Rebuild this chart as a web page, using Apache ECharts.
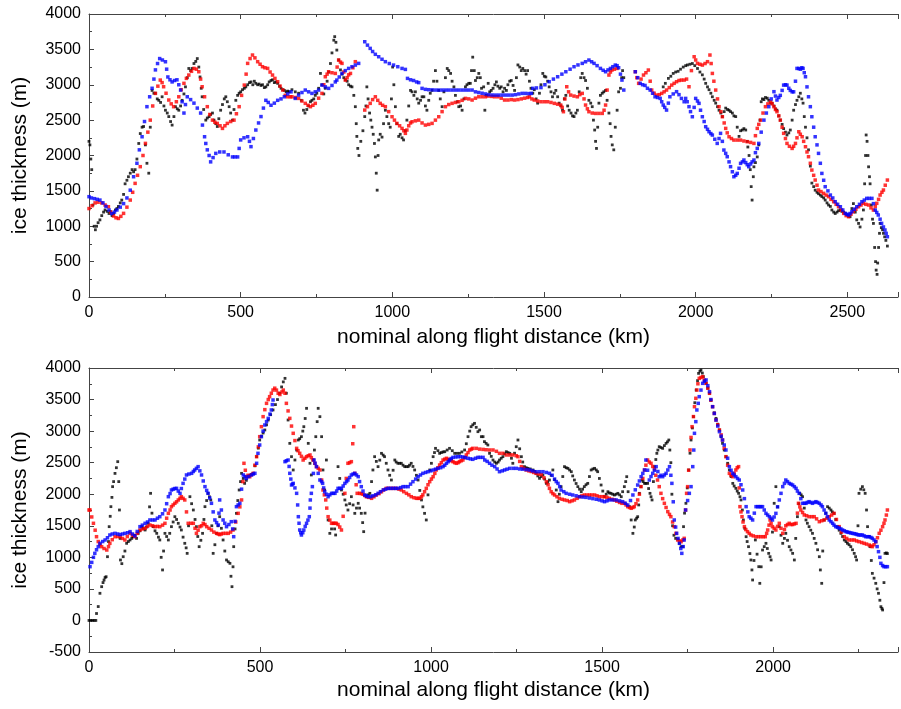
<!DOCTYPE html>
<html>
<head>
<meta charset="utf-8">
<script src="https://cdn.jsdelivr.net/npm/echarts@6/dist/echarts.min.js"></script>
<style>
html,body{margin:0;padding:0;background:#fff;overflow:hidden;}
#chart{width:901px;height:709px;}
</style>
</head>
<body>
<div id="chart"></div>
<script>
// ---- DATA: [distance km, ice thickness m] ----
const topBlack = [[0,2200],[3,2150],[6,1950],[9,1800],[13,1300],[17,1000],[21,950],[25,1000],[30,1050],[36,1090],[42,1150],[48,1200],[53,1230],[60,1210],[66,1180],[70,1210],[76,1150],[81,1180],[87,1230],[92,1250],[97,1280],[103,1330],[108,1370],[114,1450],[119,1600],[125,1650],[130,1700],[136,1750],[142,1800],[147,1770],[152,1800],[158,1950],[164,2170],[169,2310],[175,2400],[180,2410],[186,2150],[191,1890],[197,1750],[202,2400],[208,2920],[214,2880],[219,2880],[225,2800],[230,2780],[236,2750],[241,2830],[247,2700],[252,2640],[258,2600],[263,2550],[269,2480],[274,2430],[280,2550],[285,2690],[291,2660],[296,2640],[302,2700],[307,2780],[313,2870],[318,2970],[324,3100],[329,3230],[335,3200],[340,3230],[346,3300],[352,3330],[357,3370],[362,3250],[366,3110],[370,2950],[373,2830],[378,2650],[385,2500],[390,2530],[396,2550],[401,2580],[407,2600],[412,2500],[418,2450],[423,2410],[428,2520],[434,2640],[440,2720],[446,2800],[451,2830],[456,2760],[462,2690],[467,2600],[473,2500],[478,2650],[484,2780],[490,2850],[495,2880],[500,2900],[506,2930],[512,2950],[517,2970],[523,3000],[529,3030],[534,3040],[540,3000],[545,3050],[550,3020],[556,3000],[561,3010],[567,2990],[572,3000],[578,2960],[583,2970],[589,3000],[594,3040],[600,3060],[605,3070],[611,3030],[616,3040],[622,3020],[628,2980],[633,2950],[639,2930],[644,2920],[650,2900],[655,2910],[660,2900],[669,2930],[680,2900],[691,2880],[700,2780],[707,2640],[712,2600],[718,2650],[724,2700],[730,2760],[735,2780],[741,2800],[746,2850],[751,2880],[757,2950],[763,3160],[768,3000],[774,2870],[779,2950],[785,3050],[790,3180],[796,3300],[801,3450],[807,3630],[810,3680],[814,3600],[817,3490],[823,3350],[829,3210],[834,3150],[840,3100],[845,3070],[851,3050],[856,3000],[862,2980],[867,2970],[873,2850],[878,2690],[881,2450],[883,2270],[886,2100],[890,2000],[896,2200],[903,2350],[909,2550],[913,2700],[916,2970],[920,2800],[925,2600],[929,2500],[933,2400],[937,2300],[941,2170],[944,1980],[947,1750],[950,1510],[953,2000],[955,2220],[960,2300],[966,2260],[971,2450],[977,2640],[982,2550],[988,2450],[993,2400],[997,2800],[1001,3250],[1005,3000],[1010,2690],[1015,2450],[1021,2270],[1026,2300],[1032,2250],[1037,2220],[1043,2350],[1048,2500],[1054,2700],[1060,2920],[1065,2900],[1071,2850],[1076,2900],[1082,2800],[1087,2740],[1093,2780],[1098,2830],[1104,2830],[1109,2700],[1114,2640],[1120,2780],[1125,2880],[1131,2920],[1136,3050],[1142,3200],[1147,3050],[1153,2920],[1158,2800],[1164,2690],[1170,2900],[1175,3100],[1181,3230],[1186,3200],[1192,3160],[1197,3050],[1203,2970],[1208,2850],[1214,2760],[1219,2690],[1225,2700],[1230,2640],[1236,2800],[1241,2970],[1246,3000],[1252,3020],[1257,3020],[1261,3200],[1265,3390],[1270,3200],[1274,3060],[1280,3100],[1285,3160],[1290,3100],[1294,2950],[1301,2970],[1305,2640],[1310,2850],[1316,3020],[1321,2900],[1326,2920],[1332,2950],[1338,3000],[1343,3040],[1348,2980],[1354,2950],[1359,2970],[1365,2900],[1370,2950],[1376,2920],[1381,3000],[1387,3050],[1392,3060],[1398,2990],[1403,2920],[1409,3100],[1414,3280],[1420,3250],[1425,3200],[1430,3230],[1436,3200],[1441,3150],[1446,3200],[1452,3050],[1457,2950],[1463,2880],[1468,2930],[1474,2800],[1479,2740],[1485,2880],[1490,3000],[1496,3160],[1501,3120],[1506,3110],[1512,3050],[1517,2970],[1523,2900],[1528,2830],[1534,2880],[1539,2920],[1545,2830],[1550,2740],[1556,2700],[1561,2640],[1567,2800],[1572,2850],[1578,2700],[1583,2640],[1589,2600],[1594,2560],[1599,2550],[1605,2600],[1610,2640],[1616,2900],[1621,3100],[1626,3160],[1632,3100],[1637,3060],[1643,2950],[1648,2780],[1654,2740],[1659,2690],[1663,2500],[1667,2360],[1670,2200],[1673,2100],[1677,2400],[1681,2740],[1686,2850],[1692,2880],[1697,2900],[1703,2920],[1708,2780],[1714,2600],[1718,2450],[1721,2270],[1725,2150],[1730,2080],[1735,2400],[1741,2640],[1746,2900],[1752,2950],[1756,3100],[1759,3200],[1763,3100],[1893,2970],[1900,3020],[1910,3090],[1918,3120],[1926,3160],[1934,3180],[1942,3190],[1950,3220],[1959,3250],[1967,3270],[1973,3280],[1981,3290],[1989,3300],[1997,3270],[2006,3230],[2014,3180],[2022,3140],[2028,3080],[2033,3020],[2039,2970],[2044,2930],[2050,2880],[2055,2830],[2061,2780],[2066,2740],[2072,2690],[2077,2640],[2083,2600],[2088,2550],[2094,2620],[2099,2670],[2105,2650],[2110,2640],[2115,2620],[2121,2600],[2126,2560],[2132,2550],[2137,2400],[2143,2270],[2148,2350],[2154,2360],[2159,2380],[2165,2360],[2170,2200],[2172,2120],[2176,2000],[2180,1800],[2183,1560],[2186,1370],[2190,1700],[2192,1840],[2197,1900],[2203,1980],[2208,2150],[2212,2500],[2216,2760],[2220,2800],[2225,2790],[2230,2820],[2236,2810],[2241,2780],[2247,2740],[2252,2740],[2258,2700],[2263,2660],[2268,2640],[2274,2560],[2279,2500],[2285,2440],[2290,2380],[2296,2330],[2301,2290],[2307,2320],[2312,2360],[2318,2500],[2323,2640],[2329,2720],[2334,2780],[2340,2830],[2345,2880],[2350,2800],[2354,2740],[2358,2550],[2362,2400],[2367,2250],[2372,2080],[2378,1850],[2383,1610],[2389,1560],[2394,1510],[2400,1480],[2405,1460],[2411,1440],[2416,1420],[2422,1400],[2427,1370],[2433,1330],[2438,1300],[2444,1280],[2449,1230],[2455,1200],[2460,1180],[2466,1200],[2471,1220],[2477,1230],[2482,1210],[2488,1200],[2493,1180],[2499,1160],[2504,1140],[2509,1135],[2515,1250],[2520,1320],[2526,1200],[2531,1090],[2537,1040],[2542,990],[2548,1100],[2553,1230],[2557,1600],[2560,2000],[2562,2290],[2565,2200],[2568,2000],[2570,1840],[2573,1700],[2575,1600],[2579,1300],[2583,1100],[2586,1040],[2590,700],[2593,500],[2595,380],[2598,320],[2600,480],[2603,700],[2606,900],[2608,1040],[2612,980],[2616,950],[2619,900],[2623,850],[2627,800],[2632,720]];

const topRed = [[0,1250],[10,1290],[20,1330],[30,1340],[42,1330],[53,1300],[64,1276],[72,1200],[81,1145],[89,1120],[97,1110],[105,1140],[114,1182],[125,1270],[136,1370],[144,1480],[152,1606],[160,1720],[169,1842],[178,2000],[186,2171],[194,2330],[202,2500],[210,2700],[219,2878],[227,2980],[235,3066],[241,3030],[246,2972],[254,2880],[263,2784],[271,2730],[279,2690],[288,2760],[296,2830],[304,2930],[313,3020],[321,3090],[329,3137],[338,3190],[346,3231],[354,3220],[362,3184],[368,3080],[373,2972],[381,2830],[390,2690],[398,2580],[407,2500],[415,2470],[423,2454],[432,2420],[440,2383],[448,2420],[456,2454],[467,2480],[478,2500],[486,2590],[495,2690],[503,2850],[512,2995],[518,3150],[523,3302],[531,3370],[539,3420],[547,3380],[556,3326],[564,3290],[572,3255],[580,3240],[589,3231],[597,3180],[605,3137],[613,3090],[622,3043],[630,2980],[639,2925],[647,2850],[655,2830],[664,2830],[669,2830],[680,2820],[691,2807],[702,2770],[713,2737],[722,2710],[730,2690],[738,2710],[746,2737],[757,2810],[768,2878],[774,3000],[779,3113],[785,3150],[790,3184],[801,3170],[812,3160],[818,3250],[823,3349],[829,3320],[834,3302],[840,3180],[845,3066],[851,3100],[856,3140],[862,3160],[870,3240],[878,3326],[909,2642],[918,2690],[927,2737],[935,2790],[944,2830],[952,2780],[960,2737],[968,2710],[977,2690],[988,2620],[999,2548],[1007,2500],[1015,2454],[1024,2420],[1032,2383],[1038,2350],[1043,2313],[1048,2360],[1054,2420],[1060,2460],[1065,2477],[1076,2490],[1087,2500],[1098,2460],[1109,2430],[1120,2440],[1131,2454],[1142,2500],[1153,2548],[1164,2620],[1175,2690],[1186,2720],[1197,2737],[1208,2750],[1219,2760],[1230,2780],[1241,2807],[1252,2800],[1263,2784],[1274,2810],[1285,2830],[1296,2830],[1307,2830],[1316,2840],[1327,2835],[1337,2830],[1348,2830],[1359,2810],[1370,2784],[1381,2784],[1392,2790],[1403,2784],[1414,2790],[1425,2800],[1436,2810],[1446,2820],[1452,2830],[1460,2800],[1468,2784],[1479,2770],[1490,2760],[1501,2760],[1512,2760],[1523,2750],[1534,2737],[1545,2725],[1555,2713],[1560,2680],[1564,2619],[1569,2800],[1575,2972],[1581,2900],[1588,2854],[1599,2840],[1610,2830],[1618,2860],[1626,2878],[1632,2800],[1637,2713],[1643,2660],[1648,2619],[1659,2600],[1670,2595],[1681,2595],[1692,2595],[1698,2640],[1703,2713],[1708,2925],[1714,3137],[1719,3180],[1724,3208],[1732,3220],[1741,3231],[1801,3184],[1806,3100],[1812,3020],[1820,3080],[1828,3137],[1836,3170],[1844,3208],[1850,3050],[1855,2925],[1863,2880],[1872,2854],[1880,2860],[1888,2878],[1896,2900],[1904,2925],[1913,2960],[1921,2995],[1929,3020],[1937,3043],[1945,3060],[1953,3066],[1962,3066],[1970,3080],[1978,2972],[1986,3200],[1995,3396],[2000,3350],[2006,3302],[2014,3290],[2022,3278],[2031,3300],[2039,3326],[2047,3420],[2051,3300],[2055,3160],[2060,3050],[2066,2925],[2072,2800],[2077,2690],[2083,2620],[2088,2548],[2094,2460],[2099,2383],[2104,2320],[2110,2265],[2118,2240],[2126,2218],[2137,2218],[2148,2218],[2159,2205],[2170,2195],[2181,2185],[2192,2171],[2197,2280],[2203,2383],[2208,2440],[2214,2500],[2222,2600],[2230,2690],[2238,2730],[2247,2760],[2252,2730],[2258,2690],[2263,2650],[2268,2619],[2274,2560],[2279,2500],[2285,2400],[2290,2313],[2296,2240],[2301,2171],[2309,2130],[2318,2100],[2323,2130],[2329,2171],[2334,2250],[2340,2336],[2345,2300],[2351,2265],[2356,2200],[2362,2124],[2367,2050],[2372,1983],[2378,1890],[2383,1794],[2389,1720],[2394,1653],[2400,1580],[2405,1512],[2413,1490],[2422,1465],[2430,1440],[2438,1418],[2446,1380],[2455,1347],[2463,1310],[2471,1276],[2480,1230],[2488,1182],[2496,1150],[2504,1135],[2512,1170],[2520,1206],[2528,1240],[2537,1276],[2545,1300],[2553,1324],[2561,1310],[2570,1300],[2578,1260],[2586,1229],[2592,1280],[2597,1324],[2603,1380],[2608,1441],[2614,1480],[2619,1512],[2625,1580],[2632,1653]];

const topBlue = [[0,1418],[8,1400],[18,1390],[27,1380],[36,1370],[46,1330],[56,1280],[66,1230],[75,1180],[84,1200],[92,1230],[103,1270],[114,1320],[125,1400],[136,1510],[147,1700],[158,1890],[166,2080],[175,2265],[183,2480],[191,2690],[200,2830],[208,2950],[214,3080],[219,3210],[226,3300],[233,3370],[242,3350],[252,3325],[256,3220],[260,3110],[267,3070],[274,3040],[282,3060],[290,3070],[296,3000],[302,2925],[307,2760],[313,2600],[318,2720],[324,2830],[335,2790],[346,2740],[357,2670],[368,2600],[374,2430],[381,2265],[385,2170],[390,2080],[396,2000],[401,1910],[409,1970],[418,2030],[431,2050],[445,2050],[459,2010],[473,1980],[481,1980],[490,1980],[495,2100],[500,2220],[511,2250],[523,2265],[529,2200],[534,2125],[542,2240],[550,2360],[559,2460],[567,2550],[575,2670],[583,2780],[591,2750],[600,2710],[611,2740],[622,2780],[633,2800],[644,2830],[655,2870],[666,2900],[680,2807],[691,2854],[702,2890],[713,2925],[724,2900],[735,2878],[746,2900],[757,2925],[768,2995],[779,2970],[790,2949],[801,2990],[812,3040],[817,3066],[825,3110],[834,3160],[845,3200],[856,3231],[867,3255],[878,3278],[889,3302],[909,3608],[918,3560],[927,3514],[935,3470],[944,3430],[955,3396],[966,3360],[977,3326],[990,3300],[1004,3278],[1018,3255],[1032,3231],[1043,3217],[1050,3090],[1060,3070],[1070,3060],[1080,3040],[1087,3030],[1098,2949],[1109,2935],[1120,2930],[1131,2928],[1142,2925],[1153,2925],[1164,2925],[1175,2925],[1186,2925],[1197,2925],[1208,2925],[1219,2925],[1230,2925],[1241,2925],[1252,2925],[1263,2925],[1274,2900],[1285,2890],[1296,2880],[1307,2870],[1318,2860],[1329,2855],[1340,2854],[1351,2854],[1362,2854],[1373,2854],[1384,2854],[1395,2854],[1406,2860],[1417,2870],[1428,2878],[1439,2878],[1450,2875],[1458,2878],[1463,2949],[1475,2955],[1490,2960],[1503,3000],[1517,3043],[1531,3080],[1545,3113],[1559,3150],[1572,3184],[1586,3220],[1599,3255],[1612,3280],[1626,3302],[1637,3325],[1648,3349],[1657,3325],[1665,3302],[1675,3270],[1686,3231],[1695,3205],[1703,3184],[1711,3210],[1719,3231],[1727,3255],[1735,3278],[1741,3270],[1746,3240],[1752,3150],[1757,3066],[1763,2925],[1801,3184],[1809,3100],[1817,3020],[1825,3000],[1833,2990],[1841,2950],[1850,2925],[1858,2880],[1866,2830],[1874,2820],[1883,2807],[1888,2760],[1893,2713],[1898,2680],[1904,2642],[1910,2740],[1915,2830],[1926,2870],[1937,2902],[1945,2860],[1953,2807],[1962,2760],[1967,2807],[1972,2760],[1978,2690],[1983,2620],[1989,2548],[1995,2680],[2000,2807],[2006,2770],[2011,2737],[2016,2640],[2022,2548],[2028,2480],[2033,2407],[2039,2370],[2044,2336],[2050,2310],[2055,2289],[2063,2230],[2071,2171],[2077,2240],[2082,2313],[2088,2200],[2093,2077],[2099,2030],[2104,1983],[2110,1910],[2115,1842],[2121,1770],[2126,1700],[2132,1720],[2137,1747],[2143,1820],[2148,1889],[2154,1910],[2159,1936],[2165,1900],[2170,1870],[2175,1842],[2181,1880],[2186,1910],[2192,1936],[2197,2040],[2203,2100],[2208,2171],[2216,2330],[2225,2500],[2233,2600],[2241,2690],[2249,2800],[2258,2902],[2263,2840],[2268,2784],[2274,2820],[2279,2850],[2285,2920],[2290,2995],[2296,3000],[2301,2995],[2307,2950],[2312,2920],[2318,2900],[2323,2900],[2329,3050],[2334,3231],[2340,3230],[2345,3220],[2350,3240],[2354,3231],[2358,3170],[2362,3113],[2367,2970],[2372,2830],[2378,2690],[2383,2548],[2389,2400],[2394,2265],[2400,2150],[2405,2030],[2411,1890],[2416,1747],[2422,1650],[2427,1559],[2436,1500],[2444,1441],[2452,1400],[2460,1347],[2468,1310],[2477,1276],[2485,1230],[2493,1182],[2499,1170],[2504,1159],[2509,1180],[2515,1206],[2523,1240],[2531,1276],[2540,1310],[2548,1347],[2556,1370],[2564,1394],[2572,1394],[2581,1394],[2586,1320],[2592,1229],[2597,1195],[2602,1159],[2608,1100],[2613,1041],[2619,990],[2624,947],[2628,900],[2632,852]];

const botBlack = [[0,0],[5,0],[10,0],[15,0],[20,0],[22,110],[27,220],[32,430],[37,535],[41,600],[44,640],[47,680],[50,693],[54,1010],[57,1250],[59,1486],[62,1650],[64,1803],[67,1950],[69,2120],[72,2200],[76,2330],[80,2420],[84,2516],[87,2200],[89,1750],[91,1300],[92,958],[96,900],[100,1010],[105,1100],[110,1222],[115,1250],[120,1275],[125,1300],[129,1327],[134,1350],[139,1300],[144,1380],[149,1420],[154,1486],[159,1460],[164,1433],[168,1480],[173,1539],[177,1800],[180,2014],[184,1700],[188,1486],[193,1420],[198,1380],[203,1320],[207,1275],[211,1000],[215,800],[218,1100],[222,1380],[227,1330],[232,1275],[236,1380],[241,1486],[246,1560],[251,1644],[256,1600],[261,1539],[266,1480],[270,1433],[275,1320],[280,1222],[284,1150],[287,1063],[291,1500],[295,1961],[300,1850],[305,1750],[310,1600],[314,1486],[318,1330],[322,1169],[327,1270],[332,1380],[336,1600],[339,1803],[344,1900],[348,2014],[352,1960],[356,1909],[359,1500],[363,1063],[368,1200],[373,1380],[377,1500],[382,1644],[387,1460],[392,1275],[397,1100],[402,958],[407,930],[412,905],[415,700],[418,535],[421,850],[423,1169],[427,1450],[431,1697],[435,1900],[439,2067],[443,2200],[446,2331],[451,2250],[455,2172],[460,2220],[465,2278],[470,2300],[475,2310],[480,2331],[485,2450],[490,2595],[495,2730],[499,2859],[504,2920],[509,2970],[514,3018],[519,3100],[524,3176],[531,3260],[538,3335],[545,3420],[551,3500],[557,3600],[563,3700],[568,3780],[573,3836],[577,3600],[582,3176],[587,2806],[592,2595],[597,2384],[602,2542],[607,2700],[612,2859],[616,2880],[621,2912],[625,3000],[628,3070],[632,3200],[636,3361],[641,2806],[646,2490],[650,2305],[655,2542],[659,2700],[663,2912],[667,3150],[670,3361],[675,3229],[680,2912],[684,2384],[689,2067],[694,2542],[699,1592],[704,1380],[709,1450],[714,1539],[718,1450],[721,1354],[728,2437],[733,2250],[738,2067],[743,2000],[748,1909],[752,1830],[757,1750],[762,1850],[767,1961],[772,1830],[777,1697],[782,1780],[787,1856],[791,1780],[796,1697],[800,1550],[803,1407],[807,1700],[811,1961],[816,1990],[821,2014],[826,2200],[830,2384],[835,2595],[840,2520],[845,2437],[850,2540],[855,2648],[860,2620],[864,2595],[869,2490],[874,2384],[879,2300],[884,2225],[889,2380],[894,2542],[898,2510],[903,2490],[908,2490],[913,2490],[918,2460],[923,2437],[928,2437],[933,2437],[937,2460],[942,2490],[947,2440],[952,2384],[957,2300],[962,2225],[967,2060],[972,1909],[976,1800],[981,1697],[986,1592],[991,1990],[996,2384],[1001,2490],[1006,2595],[1010,2660],[1013,2727],[1020,2690],[1025,2648],[1030,2660],[1035,2670],[1040,2674],[1047,2700],[1054,2727],[1062,2690],[1069,2648],[1076,2648],[1083,2648],[1090,2670],[1098,2701],[1103,2800],[1108,2912],[1113,3000],[1117,3070],[1122,3100],[1127,3123],[1132,3060],[1137,2991],[1142,3018],[1147,2912],[1152,2912],[1156,2833],[1161,2806],[1166,2780],[1171,2648],[1176,2600],[1181,2542],[1186,2510],[1191,2490],[1196,2510],[1200,2542],[1205,2570],[1210,2595],[1215,2640],[1220,2674],[1225,2660],[1230,2648],[1235,2570],[1239,2490],[1244,2650],[1249,2753],[1254,2859],[1259,2720],[1264,2595],[1268,2510],[1273,2437],[1278,2420],[1283,2410],[1290,2400],[1298,2384],[1303,2360],[1307,2331],[1312,2290],[1317,2252],[1322,2280],[1327,2305],[1332,2240],[1337,2172],[1341,2190],[1346,2225],[1351,2300],[1356,2384],[1361,2230],[1366,2067],[1371,1882],[1375,2000],[1380,2120],[1385,2280],[1390,2437],[1395,2420],[1400,2410],[1405,2384],[1410,2357],[1414,2290],[1419,2225],[1424,2170],[1429,2120],[1434,2080],[1439,2040],[1443,2080],[1448,2120],[1453,2150],[1458,2172],[1463,2280],[1468,2384],[1473,2400],[1478,2410],[1483,2384],[1487,2357],[1492,2250],[1497,2146],[1502,2050],[1507,1961],[1512,2000],[1517,2040],[1521,2020],[1526,2014],[1531,2000],[1536,1988],[1541,2000],[1546,2014],[1551,1990],[1556,1961],[1560,2040],[1565,2120],[1569,2200],[1572,2278],[1576,2040],[1580,1803],[1585,1592],[1590,1380],[1594,1480],[1597,1592],[1601,1620],[1604,1644],[1607,1830],[1609,2014],[1613,2120],[1617,2225],[1620,2200],[1624,2172],[1628,2172],[1633,2172],[1636,2090],[1640,2014],[1643,1960],[1646,1909],[1650,2200],[1653,2437],[1657,2550],[1660,2648],[1663,2700],[1667,2753],[1672,2740],[1677,2727],[1682,2770],[1687,2806],[1691,2830],[1695,2859],[1698,2700],[1701,2500],[1704,2000],[1706,1500],[1710,1350],[1715,1300],[1721,1290],[1726,1222],[1731,1169],[1736,1169],[1738,1486],[1741,1700],[1745,1856],[1749,2100],[1753,2384],[1757,2650],[1760,2859],[1764,3050],[1767,3229],[1771,3450],[1775,3651],[1779,3800],[1782,3915],[1786,3950],[1789,3968],[1793,3920],[1796,3863],[1800,3800],[1804,3757],[1809,3680],[1814,3599],[1818,3490],[1823,3387],[1828,3290],[1833,3202],[1838,3110],[1843,3018],[1848,2910],[1852,2806],[1857,2700],[1862,2595],[1867,2490],[1872,2384],[1877,2280],[1882,2172],[1886,2130],[1891,2093],[1895,2050],[1899,2014],[1903,1960],[1906,1909],[1910,1750],[1913,1592],[1917,1460],[1921,1327],[1924,1250],[1928,1169],[1932,1060],[1935,958],[1938,800],[1940,641],[1944,950],[1948,1275],[1953,1050],[1958,852],[1961,588],[1965,850],[1969,1116],[1974,1170],[1979,1222],[1983,1140],[1987,1063],[1991,1010],[1994,958],[1998,1400],[2003,1856],[2008,2120],[2013,1800],[2018,1486],[2023,1350],[2028,1222],[2033,1300],[2037,1380],[2042,1270],[2047,1169],[2052,1116],[2057,1063],[2062,958],[2066,1300],[2071,1644],[2075,1850],[2078,2014],[2082,1990],[2086,1961],[2091,1780],[2096,1592],[2100,1540],[2105,1486],[2110,1430],[2115,1380],[2120,1300],[2125,1222],[2130,1120],[2135,1010],[2138,800],[2142,588],[2145,1100],[2149,1592],[2154,1700],[2159,1803],[2164,1780],[2169,1750],[2173,1720],[2178,1697],[2183,1600],[2188,1486],[2193,1430],[2198,1380],[2203,1330],[2208,1275],[2213,1250],[2217,1222],[2222,1200],[2227,1169],[2232,1120],[2237,1063],[2241,1010],[2244,958],[2248,1500],[2251,2014],[2256,2080],[2261,2120],[2265,2070],[2269,2014],[2273,1750],[2276,1486],[2280,1330],[2283,1169],[2287,950],[2290,746],[2295,670],[2300,588],[2304,500],[2308,430],[2312,320],[2315,218],[2318,190],[2320,166],[2324,600],[2327,1063],[2331,1070],[2334,1060]];

const botRed = [[0,1750],[3,1750],[8,1640],[13,1539],[18,1430],[22,1327],[27,1250],[32,1200],[37,1169],[44,1140],[52,1116],[57,1170],[61,1222],[68,1280],[76,1327],[84,1330],[91,1327],[98,1300],[105,1275],[112,1330],[120,1380],[127,1350],[134,1327],[141,1380],[149,1433],[156,1450],[164,1460],[171,1490],[178,1512],[186,1500],[193,1486],[200,1490],[207,1486],[215,1510],[222,1539],[227,1620],[232,1697],[237,1750],[241,1803],[246,1830],[251,1856],[256,1880],[261,1909],[266,1935],[270,1961],[275,1935],[280,1909],[285,1720],[290,1539],[298,1539],[305,1539],[310,1460],[314,1380],[319,1430],[324,1486],[329,1500],[334,1539],[339,1520],[344,1486],[351,1460],[358,1433],[365,1400],[373,1380],[378,1370],[382,1360],[387,1370],[392,1380],[400,1380],[407,1380],[414,1400],[421,1433],[429,1560],[436,1697],[441,1800],[446,1909],[450,2200],[453,2490],[457,2380],[460,2278],[465,2300],[470,2278],[475,2310],[480,2331],[485,2460],[490,2595],[495,2750],[499,2912],[504,3070],[509,3229],[514,3340],[519,3440],[524,3500],[528,3546],[533,3600],[538,3651],[543,3680],[548,3650],[553,3600],[558,3580],[564,3620],[568,3650],[573,3600],[577,3440],[582,3320],[587,3202],[592,3080],[597,2965],[602,2850],[607,2727],[611,2690],[616,2648],[621,2600],[626,2542],[631,2570],[636,2595],[641,2610],[646,2622],[650,2580],[655,2542],[660,2490],[665,2437],[670,2410],[675,2384],[680,2225],[684,2067],[688,1990],[692,1909],[695,1780],[699,1644],[704,1590],[709,1539],[714,1539],[719,1539],[723,1539],[728,1520],[733,1480],[738,1433],[743,1650],[748,2014],[752,2250],[757,2490],[762,2500],[767,2516],[771,2800],[774,3070],[777,2330],[781,2150],[784,2014],[791,2014],[796,2010],[801,2000],[806,1980],[811,1961],[818,1950],[826,1935],[833,1960],[840,1988],[848,2010],[855,2040],[862,2070],[869,2093],[876,2093],[884,2093],[891,2093],[898,2093],[906,2080],[913,2067],[920,2040],[928,2014],[935,1990],[942,1961],[950,1945],[957,1935],[962,1935],[967,1935],[972,1960],[976,1990],[981,2040],[986,2093],[991,2150],[996,2199],[1001,2240],[1006,2278],[1011,2330],[1015,2384],[1020,2420],[1025,2463],[1030,2500],[1035,2542],[1040,2555],[1045,2569],[1050,2555],[1054,2542],[1059,2530],[1064,2516],[1069,2500],[1074,2490],[1079,2500],[1083,2516],[1088,2530],[1093,2542],[1098,2580],[1103,2622],[1108,2660],[1113,2701],[1118,2715],[1122,2727],[1132,2727],[1142,2715],[1152,2710],[1161,2705],[1171,2701],[1181,2701],[1191,2680],[1200,2648],[1210,2648],[1220,2622],[1230,2622],[1239,2622],[1249,2610],[1254,2595],[1259,2520],[1264,2437],[1271,2410],[1278,2384],[1286,2370],[1293,2360],[1300,2345],[1307,2331],[1315,2320],[1322,2310],[1330,2260],[1337,2199],[1342,2150],[1346,2093],[1351,2040],[1356,2010],[1361,1988],[1368,1960],[1375,1935],[1383,1920],[1390,1909],[1398,1900],[1405,1882],[1412,1895],[1419,1909],[1427,1935],[1434,1961],[1441,1975],[1448,1988],[1456,1988],[1463,1988],[1470,1988],[1478,1988],[1485,1975],[1492,1961],[1500,1961],[1507,1961],[1514,1950],[1521,1935],[1529,1920],[1536,1909],[1543,1890],[1551,1870],[1558,1856],[1565,1856],[1570,1830],[1575,1803],[1580,1790],[1585,1777],[1590,1790],[1594,1803],[1599,1850],[1604,1909],[1609,2000],[1614,2120],[1619,2250],[1624,2384],[1628,2460],[1633,2542],[1638,2510],[1643,2490],[1648,2440],[1653,2400],[1657,2300],[1662,2225],[1667,2120],[1672,2014],[1677,1930],[1682,1856],[1687,1790],[1692,1724],[1697,1680],[1701,1644],[1706,1560],[1711,1486],[1716,1380],[1721,1275],[1726,1260],[1731,1248],[1736,1275],[1740,1301],[1744,1750],[1747,2014],[1750,2120],[1753,2380],[1757,2701],[1760,2900],[1763,3070],[1767,3230],[1770,3387],[1774,3520],[1777,3651],[1780,3750],[1784,3836],[1789,3850],[1794,3863],[1799,3810],[1804,3757],[1809,3680],[1814,3599],[1818,3490],[1823,3387],[1828,3280],[1833,3176],[1838,3100],[1843,3018],[1848,2940],[1852,2859],[1857,2730],[1862,2595],[1867,2460],[1872,2331],[1877,2300],[1882,2278],[1886,2330],[1891,2384],[1895,2420],[1899,2437],[1901,2100],[1903,1803],[1906,1720],[1909,1644],[1912,1560],[1916,1486],[1920,1440],[1925,1407],[1930,1380],[1935,1354],[1942,1340],[1950,1327],[1957,1327],[1964,1327],[1971,1327],[1977,1327],[1981,1380],[1984,1433],[1988,1510],[1991,1592],[1994,1540],[1998,1486],[2003,1460],[2008,1433],[2013,1490],[2018,1539],[2023,1460],[2028,1380],[2033,1440],[2037,1500],[2042,1520],[2047,1539],[2052,1520],[2057,1520],[2062,1530],[2067,1539],[2071,1700],[2074,1856],[2078,1800],[2081,1750],[2086,1710],[2091,1671],[2098,1660],[2105,1644],[2113,1644],[2120,1644],[2127,1610],[2135,1565],[2142,1580],[2149,1592],[2157,1620],[2164,1644],[2171,1670],[2178,1697],[2185,1600],[2193,1486],[2200,1400],[2208,1327],[2215,1300],[2222,1275],[2230,1275],[2237,1275],[2244,1260],[2251,1248],[2259,1235],[2266,1222],[2273,1210],[2281,1195],[2286,1180],[2290,1169],[2295,1200],[2300,1248],[2305,1310],[2310,1380],[2315,1430],[2320,1486],[2324,1540],[2327,1592],[2331,1670],[2334,1750]];

const botBlue = [[3,852],[8,920],[13,1000],[17,1063],[22,1120],[27,1170],[32,1222],[40,1250],[47,1275],[54,1310],[61,1354],[68,1370],[76,1380],[84,1370],[91,1360],[98,1370],[105,1380],[113,1390],[120,1407],[127,1370],[134,1340],[141,1410],[149,1486],[156,1510],[164,1539],[171,1560],[178,1592],[186,1592],[193,1592],[200,1620],[207,1644],[215,1690],[222,1750],[227,1850],[232,1961],[237,2010],[241,2067],[246,2080],[251,2090],[256,2093],[261,2050],[266,2014],[270,2090],[275,2172],[280,2240],[285,2305],[292,2320],[300,2331],[305,2360],[309,2384],[314,2410],[319,2437],[324,2370],[329,2305],[334,2210],[339,2120],[344,2060],[348,2014],[353,1940],[358,1856],[363,1720],[368,1592],[373,1550],[378,1512],[380,1700],[382,1909],[387,1750],[392,1592],[397,1540],[402,1486],[409,1520],[416,1565],[420,1450],[423,1327],[427,1570],[431,1803],[436,1830],[441,1856],[446,2080],[451,2305],[456,2280],[460,2252],[467,2280],[475,2305],[480,2320],[485,2331],[490,2490],[494,2648],[499,2780],[504,2912],[509,3000],[514,3097],[519,3150],[524,3202],[529,3270],[533,3335],[536,3420],[538,3493],[573,2516],[577,2530],[582,2542],[585,2440],[587,2331],[590,2240],[592,2146],[595,2160],[597,2172],[602,2100],[607,2014],[610,1830],[612,1644],[614,1540],[616,1433],[619,1390],[621,1354],[625,1390],[628,1433],[632,1490],[636,1539],[640,1590],[644,1644],[646,1780],[647,1909],[650,2014],[653,2120],[656,2330],[658,2542],[661,2490],[665,2437],[670,2331],[675,2225],[680,2200],[683,2172],[686,2100],[689,2040],[694,2000],[699,1961],[704,1990],[709,2014],[714,2014],[719,2014],[724,2050],[728,2093],[733,2093],[738,2093],[743,2130],[748,2172],[753,2200],[757,2225],[762,2265],[767,2305],[772,2320],[777,2331],[782,2305],[787,2278],[791,2200],[796,2120],[801,2050],[806,1988],[811,1975],[816,1961],[823,1961],[830,1975],[838,1990],[845,2014],[852,2040],[860,2067],[867,2080],[874,2093],[881,2093],[889,2093],[896,2093],[903,2093],[911,2105],[918,2120],[925,2120],[933,2120],[940,2160],[947,2199],[955,2240],[962,2278],[969,2305],[976,2331],[984,2345],[991,2357],[999,2370],[1006,2384],[1013,2397],[1020,2410],[1028,2420],[1035,2437],[1040,2460],[1045,2490],[1050,2515],[1054,2542],[1059,2565],[1064,2584],[1072,2590],[1079,2595],[1086,2595],[1093,2590],[1100,2580],[1108,2569],[1115,2560],[1122,2553],[1130,2570],[1137,2584],[1144,2584],[1152,2584],[1157,2542],[1164,2520],[1171,2490],[1178,2460],[1186,2437],[1193,2400],[1200,2357],[1208,2370],[1215,2384],[1222,2397],[1230,2410],[1240,2410],[1249,2410],[1259,2400],[1268,2397],[1278,2390],[1288,2384],[1297,2370],[1307,2357],[1317,2357],[1327,2357],[1337,2345],[1346,2331],[1354,2300],[1361,2240],[1366,2200],[1371,2172],[1376,2120],[1380,2067],[1388,2040],[1395,2014],[1405,2000],[1414,1988],[1424,1975],[1434,1961],[1444,1955],[1453,1950],[1463,1940],[1473,1930],[1483,1920],[1492,1909],[1500,1895],[1507,1882],[1514,1895],[1521,1909],[1531,1909],[1541,1909],[1551,1895],[1560,1882],[1568,1856],[1575,1829],[1583,1900],[1590,1988],[1597,2070],[1604,2146],[1609,2210],[1614,2278],[1619,2330],[1624,2384],[1628,2542],[1633,2380],[1638,2225],[1643,2280],[1648,2331],[1653,2380],[1658,2437],[1663,2360],[1667,2278],[1672,2300],[1677,2278],[1682,2305],[1687,2331],[1692,2384],[1697,2437],[1701,2300],[1704,2172],[1708,1880],[1711,1592],[1715,1480],[1718,1380],[1722,1300],[1726,1222],[1730,1140],[1733,1063],[1737,1170],[1740,1275],[1744,1750],[1750,1900],[1755,2014],[1760,2120],[1765,2437],[1768,2700],[1770,2965],[1774,3150],[1777,3335],[1781,3440],[1784,3546],[1789,3650],[1794,3757],[1799,3790],[1804,3810],[1809,3720],[1814,3625],[1818,3500],[1823,3387],[1828,3280],[1833,3176],[1838,3080],[1843,2991],[1848,2920],[1852,2859],[1857,2780],[1862,2701],[1867,2570],[1872,2437],[1877,2380],[1882,2331],[1886,2305],[1891,2278],[1896,2250],[1901,2225],[1906,2150],[1911,2067],[1916,1930],[1921,1803],[1926,1720],[1930,1644],[1935,1620],[1940,1592],[1945,1700],[1950,1803],[1955,1803],[1960,1803],[1964,1803],[1969,1803],[1974,1750],[1979,1697],[1984,1670],[1989,1644],[1994,1620],[1998,1592],[2003,1640],[2008,1697],[2013,1800],[2018,1909],[2023,2014],[2028,2120],[2033,2172],[2037,2225],[2042,2200],[2047,2172],[2052,2160],[2057,2146],[2062,2120],[2067,2093],[2071,2050],[2076,2014],[2081,1930],[2086,1856],[2091,1856],[2096,1856],[2100,1870],[2105,1882],[2110,1870],[2115,1856],[2120,1870],[2125,1882],[2130,1870],[2135,1856],[2140,1830],[2144,1803],[2149,1750],[2154,1697],[2159,1644],[2164,1592],[2169,1565],[2174,1539],[2178,1510],[2183,1486],[2188,1475],[2193,1465],[2198,1450],[2203,1433],[2208,1420],[2213,1407],[2217,1400],[2222,1394],[2227,1387],[2232,1380],[2237,1375],[2242,1370],[2246,1360],[2251,1354],[2256,1354],[2261,1354],[2266,1340],[2271,1327],[2276,1327],[2281,1327],[2286,1315],[2290,1301],[2295,1275],[2300,1248],[2304,1170],[2308,1090],[2312,1000],[2315,905],[2320,870],[2324,852],[2329,852],[2334,852]];

const xTitle = 'nominal along flight distance (km)';
const yTitle = 'ice thickness (m)';

// ---- CHART ----
const FONT = 'Liberation Sans, Arial, sans-serif';
const chart = echarts.init(document.getElementById('chart'), null, {renderer: 'canvas'});
const lineStyle = {color: '#444', width: 1};
function xAx(grid, max, pos, show, gap) {
  return {
    type: 'value', gridIndex: grid, min: 0, max: max, interval: 500, position: pos,
    axisLine: {show: true, onZero: false, lineStyle: lineStyle},
    axisTick: {show: true, inside: true, length: 5, lineStyle: lineStyle},
    minorTick: {show: true, splitNumber: 2, length: 3, lineStyle: lineStyle},
    splitLine: {show: false}, minorSplitLine: {show: false},
    axisLabel: {show: show, color: '#000', fontSize: 16, fontFamily: FONT, margin: 8,
      formatter: v => (v > max - 100 ? '' : String(v))},
    name: show ? xTitle : '', nameLocation: 'middle', nameGap: gap,
    nameTextStyle: {color: '#000', fontSize: 21, fontFamily: FONT}
  };
}
function yAx(grid, min) {
  return {
    type: 'value', gridIndex: grid, min: min, max: 4000, interval: 500,
    axisLine: {show: true, onZero: false, lineStyle: lineStyle},
    axisTick: {show: true, inside: true, length: 5, lineStyle: lineStyle},
    minorTick: {show: true, splitNumber: 2, length: 3, lineStyle: lineStyle},
    splitLine: {show: false},
    axisLabel: {color: '#000', fontSize: 16, fontFamily: FONT, margin: 8, formatter: v => String(v)},
    name: yTitle, nameLocation: 'middle', nameGap: 58, nameRotate: 90,
    nameTextStyle: {color: '#000', fontSize: 21, fontFamily: FONT}
  };
}
function sc(data, xi, yi, color, size) {
  return {type: 'scatter', xAxisIndex: xi, yAxisIndex: yi, data: data, symbol: 'rect',
    symbolSize: size, itemStyle: {color: color}, silent: true, animation: false};
}
chart.setOption({
  animation: false,
  backgroundColor: '#fff',
  grid: [
    {left: 89, top: 14, width: 812, height: 283},
    {left: 89, top: 368, width: 812, height: 284}
  ],
  xAxis: [xAx(0, 2667, 'bottom', true, 30), xAx(0, 2667, 'top', false, 30),
          xAx(1, 2365, 'bottom', true, 28), xAx(1, 2365, 'top', false, 28)],
  yAxis: [yAx(0, 0), yAx(1, -500)],
  series: [
    sc(topBlack, 0, 0, '#000', 2.8), sc(topRed, 0, 0, '#ff0000', 3.5), sc(topBlue, 0, 0, '#0000ff', 3.5),
    sc(botBlack, 2, 1, '#000', 2.8), sc(botRed, 2, 1, '#ff0000', 3.5), sc(botBlue, 2, 1, '#0000ff', 3.5)
  ]
});
</script>
</body>
</html>
